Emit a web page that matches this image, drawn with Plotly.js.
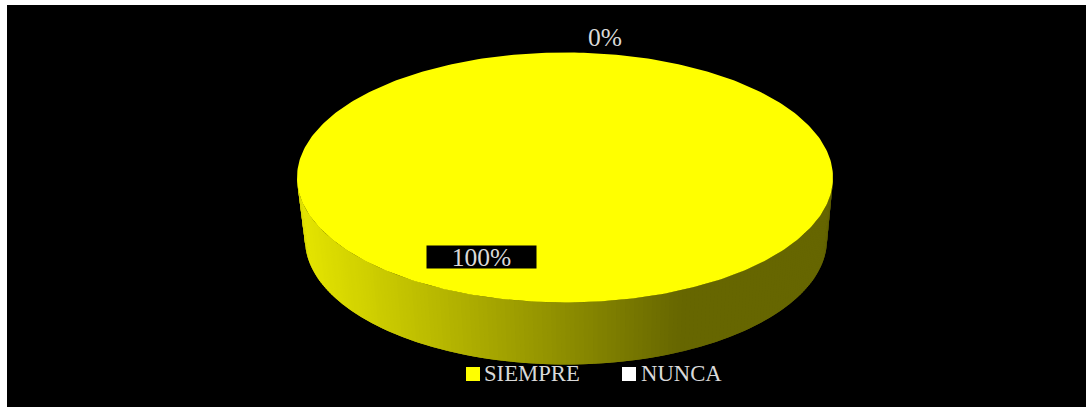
<!DOCTYPE html>
<html>
<head>
<meta charset="utf-8">
<script src="https://cdn.plot.ly/plotly-3.0.1.min.js"></script>
<style>html,body{margin:0;padding:0;background:#fff}#chart{width:1086px;height:407px}</style>
</head>
<body>
<div id="chart"></div>
<script>
const categories = ['SIEMPRE', 'NUNCA'];
const values = [100, 0];
const sliceColors = ['#ffff00', '#ffffff'];

const W = 1086, H = 407;
const top3d = {cx: 565, cy: 177.5, rx: 268, ry: 125};
const base3d = {cx: 566, cy: 239.5, rx: 261, ry: 125};
const startAngle = 3 * Math.PI / 180;
const total = values.reduce((a, b) => a + b, 0);
const traces = [];

function shade(x) {
  const f = Math.min(1, Math.max(0, (x - 297) / (680 - 297)));
  const k = Math.round(255 * (0.9 - 0.5 * f));
  return `rgb(${k},${k},0)`;
}

// Side wall of the visible (lower) half, as thin strips so the shading can vary.
const STRIPS = 180;
for (let i = 0; i < STRIPS; i++) {
  const a = Math.PI * i / STRIPS;
  const b = Math.PI * Math.min(i + 2, STRIPS) / STRIPS;
  const xs = [], ys = [];
  const STEP = 3;
  for (let j = 0; j <= STEP; j++) {
    const t = a + (b - a) * j / STEP;
    xs.push(top3d.cx - top3d.rx * Math.cos(t));
    ys.push(top3d.cy + top3d.ry * Math.sin(t));
  }
  for (let j = STEP; j >= 0; j--) {
    const t = a + (b - a) * j / STEP;
    xs.push(base3d.cx - base3d.rx * Math.cos(t));
    ys.push(base3d.cy + base3d.ry * Math.sin(t));
  }
  traces.push({
    type: 'scatter', mode: 'lines', x: xs, y: ys, fill: 'toself',
    fillcolor: shade(xs[0]), line: {width: 0}, hoverinfo: 'skip', showlegend: false
  });
}

// Top face: one elliptical sector per category, swept from its share of the total.
let angle = startAngle;
categories.forEach((name, i) => {
  const sweep = 2 * Math.PI * values[i] / total;
  const steps = Math.max(1, Math.round(360 * values[i] / total));
  const xs = [top3d.cx], ys = [top3d.cy];
  for (let j = 0; j <= steps; j++) {
    const t = angle + sweep * j / steps;
    xs.push(top3d.cx + top3d.rx * Math.sin(t));
    ys.push(top3d.cy - top3d.ry * Math.cos(t));
  }
  xs.push(top3d.cx); ys.push(top3d.cy);
  traces.push({
    type: 'scatter', mode: 'lines', x: xs, y: ys, fill: 'toself', name: name,
    fillcolor: sliceColors[i], line: {width: 0}, hoverinfo: 'skip', showlegend: false
  });
  angle += sweep;
});

// Key below the pie.
traces.push({
  type: 'scatter', mode: 'markers',
  x: [473, 629], y: [374, 374],
  marker: {symbol: 'square', size: 14, color: sliceColors, line: {width: 0}},
  hoverinfo: 'skip', showlegend: false
});
traces.push({
  type: 'scatter', mode: 'text',
  x: [484, 641], y: [375, 375],
  text: categories, textposition: 'middle right',
  textfont: {family: '"Liberation Serif", serif', size: 22.7, color: '#d9d9d9'},
  hoverinfo: 'skip', showlegend: false
});

const pct = values.map(v => Math.round(100 * v / total) + '%');
const labelFont = {family: '"Liberation Serif", serif', size: 25.5, color: '#d9d9d9'};

const layout = {
  width: W, height: H,
  margin: {l: 7, t: 5, r: 0, b: 0, pad: 0},
  paper_bgcolor: '#ffffff', plot_bgcolor: '#000000',
  showlegend: false,
  xaxis: {range: [7, W], visible: false, fixedrange: true},
  yaxis: {range: [H, 5], visible: false, fixedrange: true},
  annotations: [
    {xref: 'x', yref: 'y', x: 481, y: 256.5, text: pct[0], showarrow: false,
     font: labelFont, bgcolor: '#000000', width: 109, height: 22, align: 'center', borderpad: 0},
    {xref: 'x', yref: 'y', x: 605, y: 37, text: pct[1], showarrow: false,
     font: labelFont, borderpad: 0}
  ]
};

Plotly.newPlot('chart', traces, layout, {displayModeBar: false, staticPlot: true});
</script>
</body>
</html>
